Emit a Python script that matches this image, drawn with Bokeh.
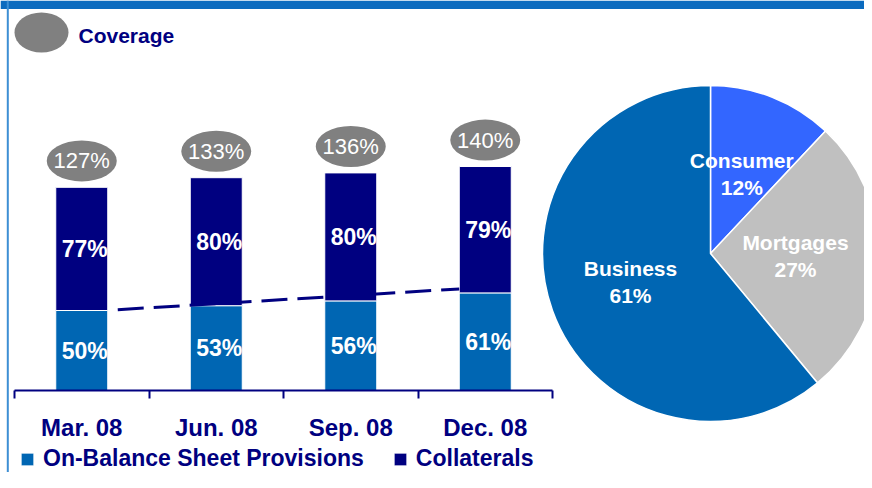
import math
from bokeh.plotting import figure
from bokeh.models import Range1d, LinearAxis, FixedTicker, Legend, LegendItem, Span
from bokeh.core.properties import value
from bokeh.embed import file_html
from bokeh.resources import INLINE

# ---- data ----
quarters = ["Mar. 08", "Jun. 08", "Sep. 08", "Dec. 08"]
provisions = [50, 53, 56, 61]          # On-Balance Sheet Provisions (%)
collaterals = [77, 80, 80, 79]         # Collaterals (%)
coverage = [127, 133, 136, 140]        # total coverage (%)
trend_ends = [50.5, 63.5]              # dashed trend line, start / end values

pie_labels = ["Consumer", "Mortgages", "Business"]
pie_shares = [12, 27, 61]
pie_colors = ["#3366FF", "#C0C0C0", "#0066B3"]

# ---- style ----
NAVY = "#000080"
BLUE = "#0066B3"
GRAY = "#808080"
FONT = "Liberation Sans"

W, H = 864, 472
PX_CAT = 134.5      # pixels per category
PX_UNIT = 1.6       # pixels per percentage point
x0 = -14 / PX_CAT
y0 = -(H - 390) / PX_UNIT

p = figure(width=W, height=H,
           x_range=Range1d(x0, x0 + W / PX_CAT),
           y_range=Range1d(y0, y0 + H / PX_UNIT),
           toolbar_location=None, output_backend="svg", min_border=0,
           x_axis_location=None, y_axis_location=None, title=None)
p.extra_x_ranges = {"px": Range1d(0, W)}
p.extra_y_ranges = {"px": Range1d(0, H)}
p.grid.visible = False
p.outline_line_color = None
p.background_fill_color = "white"

# top banner and left border line
p.quad(left=0, right=W, bottom=H - 8.5, top=H, fill_color="#0B6BBF", line_color=None,
       x_range_name="px", y_range_name="px")
p.add_layout(Span(location=x0 + 7.3 / PX_CAT, dimension="height",
                  line_color="#3D8FD4", line_width=2))

# ---- stacked bars ----
xs = [i + 0.5 for i in range(len(quarters))]
tops = [a + b for a, b in zip(provisions, collaterals)]
BW = 52 / PX_CAT
r_prov = p.vbar(x=xs, width=BW, bottom=0, top=provisions,
                fill_color=BLUE, line_color="white", line_width=1)
r_coll = p.vbar(x=xs, width=BW, bottom=provisions, top=tops,
                fill_color=NAVY, line_color="white", line_width=1)

# dashed trend line
tx = [xs[0] + BW / 2 + 10 / PX_CAT, xs[-1] - BW / 2]
p.line(tx, trend_ends, line_color=NAVY, line_width=3, line_dash="26 10")

bar_lbl = dict(text_font=value(FONT), text_font_size="23px", text_font_style="bold",
               text_color="white", text_align="center", text_baseline="middle", x_offset=3)
p.text(x=xs, y=[v / 2 for v in provisions], text=[f"{v}%" for v in provisions], **bar_lbl)
p.text(x=xs, y=[a + b / 2 for a, b in zip(provisions, collaterals)],
       text=[f"{v}%" for v in collaterals], **bar_lbl)

# coverage bubbles
ey = [c + 16.5 for c in coverage]
p.ellipse(x=xs, y=ey, width=70, height=41, width_units="screen", height_units="screen",
          fill_color=GRAY, line_color=None)
p.text(x=xs, y=ey, text=[f"{v}%" for v in coverage], text_font=value(FONT),
       text_font_size="22px", text_color="white", text_align="center", text_baseline="middle")

# ---- x axis ----
ax = LinearAxis(fixed_location=0,
                ticker=FixedTicker(ticks=xs, minor_ticks=list(range(len(quarters) + 1))),
                bounds=(0, len(quarters)))
ax.major_label_overrides = {x: q for x, q in zip(xs, quarters)}
ax.major_tick_line_color = None
ax.major_tick_out = 0
ax.major_tick_in = 0
ax.minor_tick_line_color = NAVY
ax.minor_tick_line_width = 2
ax.minor_tick_out = 8
ax.minor_tick_in = 0
ax.axis_line_color = NAVY
ax.axis_line_width = 2
ax.major_label_text_font = FONT
ax.major_label_text_font_size = "24px"
ax.major_label_text_font_style = "bold"
ax.major_label_text_color = NAVY
ax.major_label_standoff = 15
p.add_layout(ax, "below")

# ---- title bubble ----
p.ellipse(x=[41], y=[H - 32], width=54, height=40, width_units="screen", height_units="screen",
          fill_color=GRAY, line_color=None, x_range_name="px", y_range_name="px")
p.text(x=[78], y=[H - 35], text=["Coverage"], text_font=value(FONT), text_font_size="21px",
       text_font_style="bold", text_color=NAVY, text_align="left", text_baseline="middle",
       x_range_name="px", y_range_name="px")

# ---- pie ----
cx, cy, R = 710, H - 253, 168
starts, ends, mids = [], [], []
cum = 0
for s in pie_shares:
    a0 = math.pi / 2 - 2 * math.pi * cum / 100
    cum += s
    a1 = math.pi / 2 - 2 * math.pi * cum / 100
    starts.append(a0)
    ends.append(a1)
    mids.append((a0 + a1) / 2)
p.wedge(x=cx, y=cy, radius=R, radius_units="screen", start_angle=starts, end_angle=ends,
        direction="clock", fill_color=pie_colors, line_color="white", line_width=1.5,
        x_range_name="px", y_range_name="px")
RL = 0.506 * R
lx = [cx + RL * math.cos(m) for m in mids]
ly = [cy + RL * math.sin(m) for m in mids]
pie_lbl = dict(text_font=value(FONT), text_font_size="21px", text_font_style="bold",
               text_color="white", text_align="center", text_baseline="middle",
               x_range_name="px", y_range_name="px")
p.text(x=lx, y=ly, text=pie_labels, y_offset=-13.5, **pie_lbl)
p.text(x=lx, y=ly, text=[f"{s}%" for s in pie_shares], y_offset=13.5, **pie_lbl)

# ---- legend ----
legend = Legend(items=[LegendItem(label="On-Balance Sheet Provisions", renderers=[r_prov]),
                       LegendItem(label="Collaterals", renderers=[r_coll])],
                orientation="horizontal", location=(19, 0),
                glyph_width=16, glyph_height=16, label_standoff=8, spacing=28,
                padding=0, margin=0, border_line_color=None, background_fill_alpha=0,
                label_text_font=FONT, label_text_font_size="23px",
                label_text_font_style="bold", label_text_color=NAVY)
p.add_layout(legend, "center")

open("out.html", "w").write(file_html(p, INLINE))
